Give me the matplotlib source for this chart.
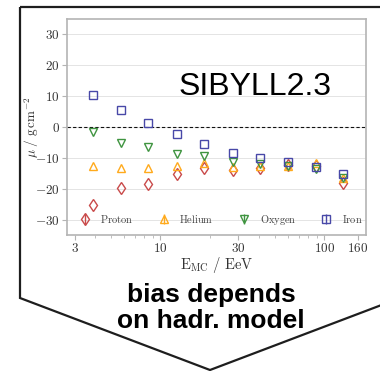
import numpy as np
import matplotlib
matplotlib.use("Agg")
import matplotlib.pyplot as plt
from matplotlib.patches import Polygon
from matplotlib.ticker import FixedLocator, FuncFormatter, LogLocator, NullFormatter

plt.rcParams['mathtext.fontset'] = 'cm'
plt.rcParams['font.family'] = ['Liberation Sans', 'DejaVu Sans']

# reconstruction bias per energy bin for each primary (SIBYLL2.3)
energy = [3.9, 5.8, 8.4, 12.6, 18.6, 27.7, 40.8, 60.3, 89.3, 130.0]
proton = [-25.4, -19.7, -18.6, -15.3, -13.3, -13.9, -13.3, -12.3, -12.8, -18.2]
helium = [-12.6, -13.3, -13.3, -12.6, -11.8, -13.1, -12.8, -12.5, -11.8, -16.6]
oxygen = [-1.7, -5.3, -6.5, -8.7, -9.4, -11.5, -12.0, -12.6, -13.6, -16.6]
iron = [10.5, 5.5, 1.2, -2.4, -5.6, -8.4, -9.9, -11.3, -13.0, -15.3]

primaries = ['Proton', 'Helium', 'Oxygen', 'Iron']
values = [proton, helium, oxygen, iron]
markers = ['d', '^', 'v', 's']
colors = ['#c94a4a', '#ffaa1c', '#3f9440', '#4848a8']

xticks = [3, 10, 30, 100, 160]
yticks = [-30, -20, -10, 0, 10, 20, 30]

W, H = 380, 371
fig = plt.figure(figsize=(W / 100, H / 100), dpi=100)

# arrow-shaped frame around the panel (pixel corners, y from top)
corners = [(20, 7), (400, 7), (400, 298), (210, 370), (20, 298)]
frame = Polygon([(x / W, 1 - y / H) for x, y in corners], closed=True,
                fill=False, edgecolor='#1e1e1e', linewidth=1.6,
                transform=fig.transFigure, clip_on=False)
fig.patches.append(frame)

ax = fig.add_axes([67 / W, 1 - 235 / H, (366 - 67) / W, (235 - 19) / H])

for name, vals, mk, col in zip(primaries, values, markers, colors):
    ax.errorbar(energy, vals, yerr=np.zeros(len(vals)), fmt=mk, ms=6.2,
                mfc='none', mec=col, mew=1.0, ecolor=col, elinewidth=1.0,
                label=r'$\mathrm{%s}$' % name)

ax.axhline(0, color='#111111', lw=0.8, ls='--', dashes=(3, 2), zorder=1.5)

ax.set_xscale('log')
ax.set_xlim(2.7, 180)
ax.set_ylim(-35, 35)
ax.xaxis.set_major_locator(FixedLocator(xticks))
ax.xaxis.set_major_formatter(FuncFormatter(lambda v, p: r'$%g$' % v))
ax.xaxis.set_minor_locator(LogLocator(base=10, subs=np.arange(2, 10)))
ax.xaxis.set_minor_formatter(NullFormatter())
ax.yaxis.set_major_locator(FixedLocator(yticks))
ax.yaxis.set_major_formatter(FuncFormatter(lambda v, p: r'$%d$' % v))

ax.grid(axis='y', color='#e4e4e4', lw=0.7)
ax.set_axisbelow(True)
for sp in ax.spines.values():
    sp.set_color('#b4b4b4')
    sp.set_linewidth(1.2)
ax.tick_params(which='major', direction='out', length=3.5, width=0.8,
               color='#b4b4b4', labelsize=9.5, labelcolor='#333333', pad=1.5)
ax.tick_params(which='minor', direction='out', length=2, width=0.6,
               color='#b4b4b4')

ax.set_xlabel(r'$\mathrm{E_{MC}\ /\ EeV}$', fontsize=10.5, color='#333333')
ax.set_ylabel(r'$\mu\ /\ \mathrm{g\,cm^{-2}}$', fontsize=9.5, color='#333333')
ax.xaxis.set_label_coords(0.5, -0.092)
ax.yaxis.set_label_coords(-0.088, 0.5)

leg = ax.legend(loc='center', bbox_to_anchor=(0.515, 0.07), ncol=4,
                frameon=False, fontsize=7.5, handlelength=1.0,
                handletextpad=1.0, columnspacing=2.4, borderaxespad=0)
for t in leg.get_texts():
    t.set_color('#444444')

ax.text(0.63, 0.685, 'SIBYLL2.3', transform=ax.transAxes, fontsize=23,
        ha='center', va='center', color='black')

fig.text(211 / W, 1 - 308 / H, 'bias depends\non hadr. model', fontsize=19,
         fontweight='bold', ha='center', va='center', linespacing=1.15)

fig.savefig('out.png', dpi=100)
